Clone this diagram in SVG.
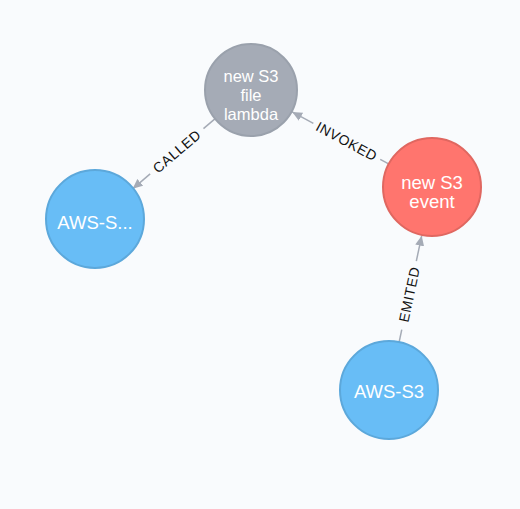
<svg xmlns="http://www.w3.org/2000/svg" width="520" height="509" viewBox="0 0 520 509">
<defs>
<marker id="arrow" markerWidth="11" markerHeight="10" refX="10" refY="5" orient="auto" markerUnits="userSpaceOnUse">
<path d="M0,0.5 L10,5 L0,9.5 z" fill="#a5abb6"/>
</marker>
<style>
.bg{fill:#f9fbfd}
.edge{stroke:#a5abb6;stroke-width:1.5;fill:none}
.elabel{font-family:"Liberation Sans",Arial,sans-serif;font-size:14px;fill:#111;text-anchor:middle;dominant-baseline:central;letter-spacing:0.6px}
.nlabel{font-family:"Liberation Sans",Arial,sans-serif;font-size:18.5px;fill:#fff;text-anchor:middle}
.small{font-size:16.5px}
.gray{fill:#a5abb6;stroke:#9aa1ac;stroke-width:2}
.red{fill:#ff756e;stroke:#e06760;stroke-width:2}
.blue{fill:#68bdf6;stroke:#5ca8db;stroke-width:2}
</style>
</defs>
<rect class="bg" x="0" y="0" width="520" height="509"/>
<g id="connectors">
<g id="edge-called" transform="translate(173,154.5) rotate(-40.4)">
<line class="edge" x1="40" y1="0" x2="55" y2="0"/>
<line class="edge" x1="-30" y1="0" x2="-53" y2="0" marker-end="url(#arrow)"/>
<text class="elabel" x="5" y="0">CALLED</text>
</g>
<g id="edge-invoked" transform="translate(341.5,138.5) rotate(28.3)">
<line class="edge" x1="44" y1="0" x2="53" y2="0"/>
<line class="edge" x1="-32" y1="0" x2="-56" y2="0" marker-end="url(#arrow)"/>
<text class="elabel" x="6" y="0">INVOKED</text>
</g>
<g id="edge-emited" transform="translate(410.5,288.5) rotate(-78)">
<line class="edge" x1="-42" y1="0" x2="-55" y2="0"/>
<line class="edge" x1="28" y1="0" x2="54" y2="0" marker-end="url(#arrow)"/>
<text class="elabel" x="-6" y="0">EMITED</text>
</g>
</g>
<g id="node-lambda">
<circle class="gray" cx="251" cy="90" r="46"/>
<text class="nlabel small" x="251" y="82">new S3</text>
<text class="nlabel small" x="251" y="101">file</text>
<text class="nlabel small" x="251" y="120">lambda</text>
</g>
<g id="node-event">
<circle class="red" cx="432" cy="187" r="49"/>
<text class="nlabel" x="432" y="189">new S3</text>
<text class="nlabel" x="432" y="208">event</text>
</g>
<g id="node-aws-left">
<circle class="blue" cx="95" cy="219" r="49"/>
<text class="nlabel" x="95" y="229">AWS-S...</text>
</g>
<g id="node-aws-s3">
<circle class="blue" cx="389" cy="390" r="49"/>
<text class="nlabel" x="389" y="398">AWS-S3</text>
</g>
</svg>
